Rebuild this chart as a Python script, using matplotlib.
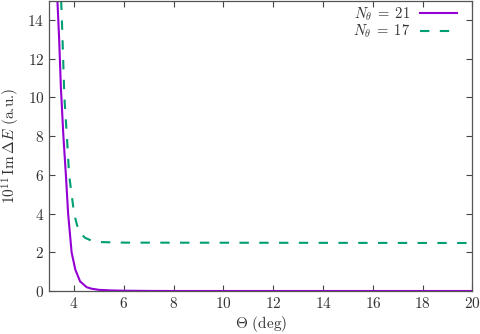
import matplotlib
matplotlib.use('Agg')
import matplotlib.pyplot as plt

plt.rcParams['font.family'] = 'serif'
plt.rcParams['font.serif'] = ['cmr10']
plt.rcParams['mathtext.fontset'] = 'cm'
plt.rcParams['axes.formatter.use_mathtext'] = True
plt.rcParams['font.size'] = 11

# N_theta = 21 (solid)
theta_21 = [3.33, 3.40, 3.47, 3.57, 3.67, 3.76, 3.90, 4.05, 4.24, 4.50, 4.70,
            5.00, 5.50, 6.00, 7.00, 8.00, 20.0]
im_21 = [15.0, 13.0, 10.5, 8.0, 6.0, 4.0, 2.0, 1.1, 0.5, 0.2, 0.12,
         0.06, 0.03, 0.015, 0.005, 0.0, 0.0]

# N_theta = 17 (dashed)
theta_17 = [3.48, 3.51, 3.56, 3.61, 3.71, 3.80, 3.90, 4.00, 4.12, 4.24, 4.44,
            4.70, 5.00, 6.00, 20.0]
im_17 = [15.0, 14.0, 12.0, 10.0, 8.0, 6.0, 5.0, 4.0, 3.4, 3.0, 2.75,
         2.6, 2.53, 2.5, 2.48]

x_ticks = [4, 6, 8, 10, 12, 14, 16, 18, 20]
y_ticks = [0, 2, 4, 6, 8, 10, 12, 14]

fig = plt.figure(figsize=(4.8, 3.34), dpi=100)
ax = fig.add_axes([0.1025, 0.1287, 0.8817, 0.8693])

ax.plot(theta_21, im_21, color='#9400D3', linewidth=1.5, label=r'$N_\theta\;=\;21$')
ax.plot(theta_17, im_17, color='#009E73', linewidth=1.5, linestyle=(0, (4.5, 5)),
        label=r'$N_\theta\;=\;17$')

ax.set_xlim(3, 20)
ax.set_ylim(0, 15)
ax.set_xticks(x_ticks)
ax.set_yticks(y_ticks)
ax.tick_params(direction='in', top=True, right=True, length=4, width=0.8,
               colors='#444444', labelcolor='#333333', labelsize=11)
for s in ax.spines.values():
    s.set_color('#555555')
    s.set_linewidth(0.9)

ax.set_xlabel(r'$\Theta$ (deg)', color='#333333', labelpad=2)
ax.set_ylabel(r'$10^{11}\,\mathrm{Im}\,\Delta E$ (a.u.)', color='#333333', labelpad=4)

leg = ax.legend(loc='upper right', frameon=False, markerfirst=False,
                handlelength=2.5, handletextpad=0.7, labelspacing=0.0,
                borderaxespad=0.0, borderpad=0.4, fontsize=10.5,
                bbox_to_anchor=(1 - 10 / 423, 1 + 1 / 290))
for t in leg.get_texts():
    t.set_color('#333333')

fig.savefig('out.png', dpi=100)
